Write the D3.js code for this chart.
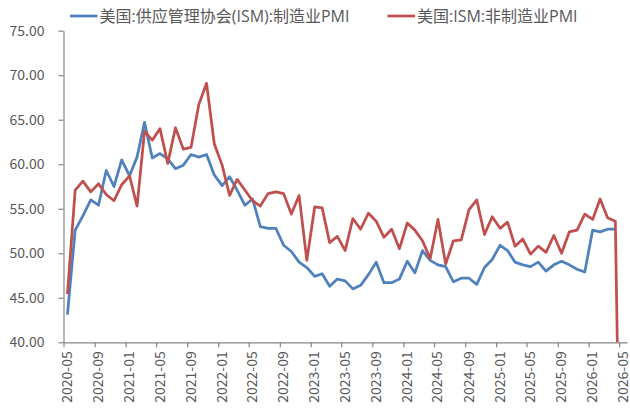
<!DOCTYPE html>
<html>
<head>
	<title>ISM PMI</title>
	<meta charset='utf-8'>
	<style>
		body {
			margin: 0;
			background: #fff;
		}

		.chart text {
			font-family: 'Noto Sans CJK SC', 'Liberation Sans', sans-serif;
			fill: #595959;
		}

		.axis path,
		.axis line {
			stroke: #868686;
			stroke-width: 1.2px;
		}

		.axis text {
			font-size: 14px;
		}

		.line {
			fill: none;
			stroke-width: 2.75px;
			stroke-linejoin: round;
		}

		.legend text {
			font-family: 'Open Sans', 'Noto Sans CJK SC', sans-serif;
			font-size: 16px;
		}
	</style>
</head>
<body>

<script src='https://d3js.org/d3.v7.min.js'></script>
<script>
	'use strict';

	// Подписи оси X (каждые 4 месяца)
	const tickLabels = ['2020-05', '2020-09', '2021-01', '2021-05', '2021-09', '2022-01', '2022-05',
		'2022-09', '2023-01', '2023-05', '2023-09', '2024-01', '2024-05', '2024-09', '2025-01',
		'2025-05', '2025-09', '2026-01', '2026-05'];

	const yTicks = [40, 45, 50, 55, 60, 65, 70, 75];

	const seriesNames = ['美国:供应管理协会(ISM):制造业PMI', '美国:ISM:非制造业PMI'];
	const seriesColors = ['#4f81bd', '#c0504d'];

	// ISM制造业PMI, 2020-05 ... 2026-04
	const manufacturing = [
		43.1, 52.6, 54.2, 56.0, 55.4, 59.3, 57.5, 60.5,
		58.7, 60.8, 64.7, 60.7, 61.2, 60.6, 59.5, 59.9, 61.1, 60.8, 61.1, 58.8,
		57.6, 58.6, 57.1, 55.4, 56.1, 53.0, 52.8, 52.8, 50.9, 50.2, 49.0, 48.4,
		47.4, 47.7, 46.3, 47.1, 46.9, 46.0, 46.4, 47.6, 49.0, 46.7, 46.7, 47.1,
		49.1, 47.8, 50.3, 49.2, 48.7, 48.5, 46.8, 47.2, 47.2, 46.5, 48.4, 49.3,
		50.9, 50.3, 49.0, 48.7, 48.5, 49.0, 48.0, 48.7, 49.1, 48.7, 48.2, 47.9,
		52.6, 52.4, 52.7, 52.7
	];

	// ISM非制造业PMI, 2020-05 ... 2026-05 (последнее значение 0 — уходит за низ графика)
	const services = [
		45.4, 57.1, 58.1, 56.9, 57.8, 56.6, 55.9, 57.7,
		58.7, 55.3, 63.7, 62.7, 64.0, 60.1, 64.1, 61.7, 61.9, 66.7, 69.1, 62.3,
		59.9, 56.5, 58.3, 57.1, 55.9, 55.3, 56.7, 56.9, 56.7, 54.4, 56.5, 49.2,
		55.2, 55.1, 51.2, 51.9, 50.3, 53.9, 52.7, 54.5, 53.6, 51.8, 52.7, 50.5,
		53.4, 52.6, 51.4, 49.4, 53.8, 48.8, 51.4, 51.5, 54.9, 56.0, 52.1, 54.1,
		52.8, 53.5, 50.8, 51.6, 49.9, 50.8, 50.1, 52.0, 50.0, 52.4, 52.6, 54.4,
		53.8, 56.1, 54.0, 53.6, 0
	];

	const width = 630;
	const height = 410;
	const plot = {left: 63.5, right: 627, top: 30.7, bottom: 342.3};

	const parseMonth = d3.timeParse('%Y-%m');
	const start = parseMonth('2020-05');
	const end = d3.timeMonth.offset(parseMonth('2026-05'), 1);
	const months = d3.timeMonth.range(start, end);

	const xScale = d3.scaleTime().domain([start, end]).range([plot.left, plot.right]);
	const yScale = d3.scaleLinear().domain([40, 75]).range([plot.bottom, plot.top]);

	// точка — в середине месяца (между делениями)
	function midX(i) {
		const m = months[i];
		return (xScale(m) + xScale(d3.timeMonth.offset(m, 1))) / 2;
	}

	const svg = d3.select('body').append('svg')
		.attr('class', 'chart')
		.attr('width', width)
		.attr('height', height);

	svg.append('clipPath')
		.attr('id', 'plot-clip')
		.append('rect')
		.attr('x', plot.left)
		.attr('y', plot.top - 5)
		.attr('width', plot.right - plot.left + 5)
		.attr('height', plot.bottom - plot.top + 5);

	// Ось Y
	svg.append('g')
		.attr('class', 'axis axis__y')
		.attr('transform', 'translate(' + plot.left + ',0)')
		.call(d3.axisLeft(yScale)
			.tickValues(yTicks)
			.tickFormat(d3.format('.2f'))
			.tickSize(5)
			.tickSizeOuter(0)
			.tickPadding(14)
		);

	// Ось X
	const xAxis = svg.append('g')
		.attr('class', 'axis axis__x')
		.attr('transform', 'translate(0,' + plot.bottom + ')')
		.call(d3.axisBottom(xScale)
			.tickValues(tickLabels.map(parseMonth))
			.tickFormat(d3.timeFormat('%Y-%m'))
			.tickSize(5)
			.tickSizeOuter(0)
		);

	xAxis.selectAll('text')
		.attr('transform', 'rotate(-90)')
		.attr('x', -9)
		.attr('y', 0)
		.attr('dy', '0.57em')
		.style('text-anchor', 'end');

	const line = d3.line()
		.x(function(d, i) {return midX(i);})
		.y(function(d) {return yScale(d);});

	const lines = svg.append('g').attr('clip-path', 'url(#plot-clip)');

	[manufacturing, services].forEach(function(data, k) {
		lines.append('path')
			.datum(data)
			.attr('class', 'line')
			.attr('stroke', seriesColors[k])
			.attr('d', line);
	});

	// Легенда
	const legendX = [70, 387.5];
	const legend = svg.append('g').attr('class', 'legend');

	seriesNames.forEach(function(name, k) {
		const g = legend.append('g')
			.attr('transform', 'translate(' + legendX[k] + ',16)');
		g.append('line')
			.attr('x1', 0)
			.attr('x2', 27.5)
			.attr('stroke', seriesColors[k])
			.attr('stroke-width', 2.75);
		g.append('text')
			.attr('x', 29.5)
			.attr('dy', '0.36em')
			.text(name);
	});
</script>
</body>
</html>
